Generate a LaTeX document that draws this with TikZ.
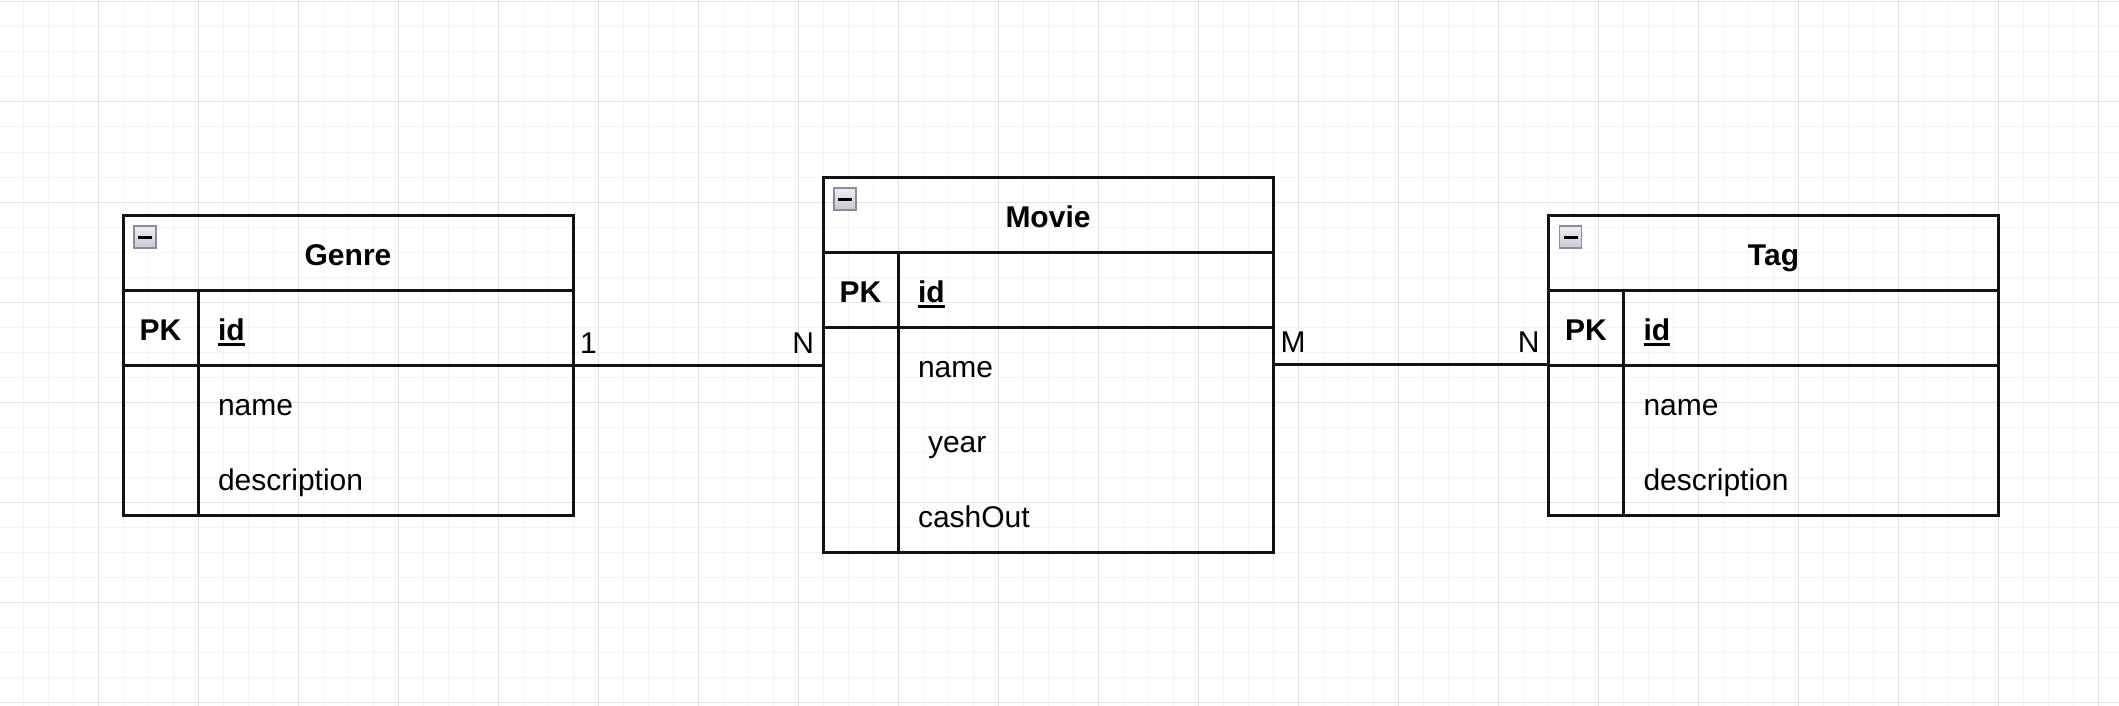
\documentclass[tikz,border=0pt]{standalone}
\usepackage{fontspec}
\setmainfont{Liberation Sans}
\usetikzlibrary{positioning, calc}
\definecolor{GridMinor}{RGB}{244,244,244}
\definecolor{GridMajor}{RGB}{226,226,226}
\definecolor{TableLine}{RGB}{18,18,18}
\definecolor{IconTop}{RGB}{238,238,242}
\definecolor{IconBottom}{RGB}{200,202,210}
\definecolor{IconBorder}{RGB}{138,142,156}

\newcommand{\keyline}[1]{\setbox0\hbox{#1}\rlap{\rule[-5pt]{\wd0}{2.6pt}}\box0}

\tikzset{
  tabletitle/.style={minimum width=450pt, minimum height=75pt, inner sep=0pt, outer sep=0pt,
    font=\fontsize{30}{36}\selectfont\bfseries, text height=32pt, text depth=6pt},
  keycell/.style={minimum width=75pt, minimum height=75pt, inner sep=0pt, outer sep=0pt,
    font=\fontsize{30}{36}\selectfont\bfseries, text height=32pt, text depth=6pt},
  fieldcell/.style={text width=335pt, minimum height=75pt, inner xsep=20pt, inner ysep=0pt,
    outer sep=0pt, align=left, font=\fontsize{30}{36}\selectfont, text height=32pt, text depth=6pt},
  tableline/.style={draw=TableLine, line width=3pt},
  relation/.style={draw=TableLine, line width=3pt},
  cardinality/.style={inner sep=0pt, font=\fontsize{30}{36}\selectfont},
  collapse/.style={minimum size=22pt, inner sep=0pt, outer sep=0pt, draw=IconBorder, line width=1.5pt,
    top color=IconTop, bottom color=IconBottom,
    path picture={\fill[black] ($(path picture bounding box.center)+(-7pt,-1.5pt)$) rectangle ($(path picture bounding box.center)+(7pt,1.5pt)$);}}
}

\begin{document}
\begin{tikzpicture}[x=1pt, y=-1pt]
  \useasboundingbox (0,0) rectangle (2119,706);
  \fill[white] (0,0) rectangle (2119,706);

  % background grid
  \foreach \gx in {23,48,...,2119} \draw[GridMinor, line width=1pt] (\gx,0) -- (\gx,706);
  \foreach \gy in {2,27,...,706} \draw[GridMinor, line width=1pt] (0,\gy) -- (2119,\gy);
  \foreach \gx in {98,198,...,2119} \draw[GridMajor, line width=1pt] (\gx,0) -- (\gx,706);
  \foreach \gy in {2,102,...,706} \draw[GridMajor, line width=1pt] (0,\gy) -- (2119,\gy);

  % Genre
  \node[tabletitle] (genre) at (348,252.5) {Genre};
  \node[keycell, anchor=north west] (genre-pk) at (genre.south west) {PK};
  \node[fieldcell, anchor=north west] (genre-id) at (genre-pk.north east) {\keyline{\textbf{id}}};
  \node[fieldcell, below=0pt of genre-id] (genre-name) {name};
  \node[fieldcell, below=0pt of genre-name] (genre-desc) {description};
  \draw[tableline] (genre.north west) rectangle (genre-desc.south east);
  \draw[tableline] (genre.south west) -- (genre.south east);
  \draw[tableline] (genre-pk.south west) -- (genre-id.south east);
  \draw[tableline] (genre-pk.north east) -- (genre-pk.north east |- genre-desc.south);
  \node[collapse, anchor=north west] (genre-toggle) at ($(genre.north west)+(11,11)$) {};

  % Movie
  \node[tabletitle] (movie) at (1048,214.5) {Movie};
  \node[keycell, anchor=north west] (movie-pk) at (movie.south west) {PK};
  \node[fieldcell, anchor=north west] (movie-id) at (movie-pk.north east) {\keyline{\textbf{id}}};
  \node[fieldcell, below=0pt of movie-id] (movie-name) {name};
  \node[fieldcell, below=0pt of movie-name] (movie-year) {\ year};
  \node[fieldcell, below=0pt of movie-year] (movie-cash) {cashOut};
  \draw[tableline] (movie.north west) rectangle (movie-cash.south east);
  \draw[tableline] (movie.south west) -- (movie.south east);
  \draw[tableline] (movie-pk.south west) -- (movie-id.south east);
  \draw[tableline] (movie-pk.north east) -- (movie-pk.north east |- movie-cash.south);
  \node[collapse, anchor=north west] (movie-toggle) at ($(movie.north west)+(11,11)$) {};

  % Tag
  \node[tabletitle] (tag) at (1773.5,252.5) {Tag};
  \node[keycell, anchor=north west] (tag-pk) at (tag.south west) {PK};
  \node[fieldcell, anchor=north west] (tag-id) at (tag-pk.north east) {\keyline{\textbf{id}}};
  \node[fieldcell, below=0pt of tag-id] (tag-name) {name};
  \node[fieldcell, below=0pt of tag-name] (tag-desc) {description};
  \draw[tableline] (tag.north west) rectangle (tag-desc.south east);
  \draw[tableline] (tag.south west) -- (tag.south east);
  \draw[tableline] (tag-pk.south west) -- (tag-id.south east);
  \draw[tableline] (tag-pk.north east) -- (tag-pk.north east |- tag-desc.south);
  \node[collapse, anchor=north west] (tag-toggle) at ($(tag.north west)+(11,11)$) {};

  % relations
  \draw[relation] (genre-id.south east) -- (genre-id.south east -| movie.west)
    node[cardinality, at start, anchor=base west, xshift=5.5pt, yshift=12pt] {1}
    node[cardinality, at end, anchor=base east, xshift=-7.5pt, yshift=12pt] {N};
  \draw[relation] (movie-name.east) -- (movie-name.east -| tag.west)
    node[cardinality, at start, anchor=base west, xshift=6pt, yshift=12pt] {M}
    node[cardinality, at end, anchor=base east, xshift=-7.5pt, yshift=12pt] {N};
\end{tikzpicture}
\end{document}
